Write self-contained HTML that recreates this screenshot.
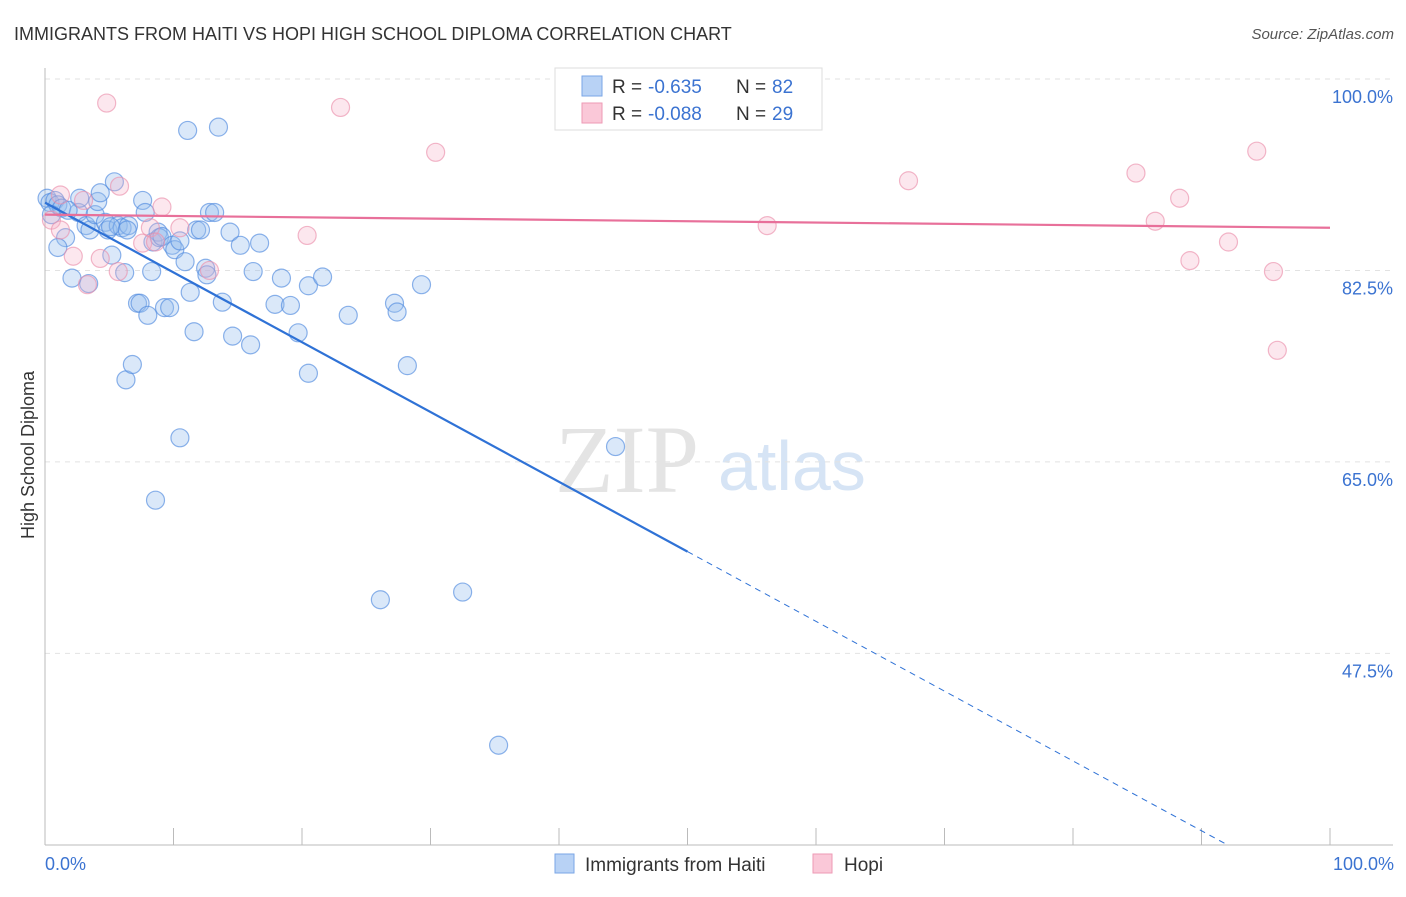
<!DOCTYPE html>
<html><head><meta charset="utf-8"><style>
body{margin:0;background:#fff;font-family:"Liberation Sans",sans-serif;}
svg text{font-family:"Liberation Sans",sans-serif;}
</style></head><body>
<svg width="1406" height="892" id="chart">
<text x="14" y="40" font-size="18" fill="#333">IMMIGRANTS FROM HAITI VS HOPI HIGH SCHOOL DIPLOMA CORRELATION CHART</text>
<text x="1394" y="39" font-size="15" fill="#555" text-anchor="end" font-style="italic">Source: ZipAtlas.com</text>
<text x="555" y="492" font-size="96" fill="#e4e4e4" style="font-family:'Liberation Serif',serif">ZIP</text>
<text x="718" y="490" font-size="70" fill="#d6e4f5">atlas</text>
<g id="grid"></g><g id="axes"></g><g id="pts"></g><g id="lines"></g>
<text transform="translate(34,455) rotate(-90)" font-size="18" fill="#333" text-anchor="middle">High School Diploma</text>
<text x="45" y="870" font-size="18" fill="#3b73d1">0.0%</text>
<text x="1394" y="870" font-size="18" fill="#3b73d1" text-anchor="end">100.0%</text>
<g>
<rect x="555" y="68" width="267" height="62" fill="#fff" stroke="#ddd"/>
<rect x="582" y="76" width="20" height="20" fill="#b8d2f5" stroke="#7aa6e6"/>
<rect x="582" y="103" width="20" height="20" fill="#fac8d8" stroke="#ee9ab5"/>
<text x="612" y="93" font-size="19" fill="#333">R =</text>
<text x="648" y="93" font-size="19" fill="#3b73d1">-0.635</text>
<text x="736" y="93" font-size="19" fill="#333">N =</text>
<text x="772" y="93" font-size="19" fill="#3b73d1">82</text>
<text x="612" y="120" font-size="19" fill="#333">R =</text>
<text x="648" y="120" font-size="19" fill="#3b73d1">-0.088</text>
<text x="736" y="120" font-size="19" fill="#333">N =</text>
<text x="772" y="120" font-size="19" fill="#3b73d1">29</text>
</g>
<g>
<rect x="555" y="854" width="19" height="19" fill="#b8d2f5" stroke="#7aa6e6"/>
<text x="585" y="871" font-size="19" fill="#333">Immigrants from Haiti</text>
<rect x="813" y="854" width="19" height="19" fill="#fac8d8" stroke="#ee9ab5"/>
<text x="844" y="871" font-size="19" fill="#333">Hopi</text>
</g>
</svg>
<script>
const yTicks=[100,82.5,65,47.5];
const yTickLabels=["100.0%","82.5%","65.0%","47.5%"];
const haitiX=[0.16,0.39,0.78,1.0,1.3,1.6,1.0,2.1,2.6,2.7,3.2,3.4,3.5,3.9,4.1,4.3,4.7,4.9,5.2,5.4,5.7,6.0,6.2,6.5,6.3,6.8,7.2,7.4,7.6,7.8,8.0,8.3,8.4,8.8,8.9,9.1,9.3,9.7,9.9,10.1,10.5,10.5,8.6,10.9,11.1,11.3,11.6,11.8,12.1,12.5,12.6,12.8,13.2,13.5,13.8,14.4,14.6,15.2,16.0,16.2,16.7,17.9,18.4,19.1,19.7,20.5,20.5,21.6,23.6,27.2,27.4,28.2,29.3,26.1,32.5,35.3,44.4,1.8,0.5,5.1,6.4];
const haitiY=[89.1,88.7,88.9,88.5,88.2,85.5,84.6,81.8,87.8,89.1,86.6,81.3,86.2,87.6,88.8,89.6,86.9,86.2,83.9,90.6,86.6,86.4,82.3,86.6,72.5,73.9,79.5,79.5,88.9,87.8,78.4,82.4,85.1,86.0,85.5,85.6,79.1,79.1,84.8,84.4,85.2,67.2,61.5,83.3,95.3,80.5,76.9,86.2,86.2,82.7,82.1,87.8,87.8,95.6,79.6,86.0,76.5,84.8,75.7,82.4,85.0,79.4,81.8,79.3,76.8,73.1,81.1,81.9,78.4,79.5,78.7,73.8,81.2,52.4,53.1,39.1,66.4,88.0,87.6,86.5,86.2];
const hopiX=[4.8,23.0,30.4,67.2,84.9,88.3,94.3,86.4,92.1,89.1,95.6,95.9,56.2,20.4,12.8,9.1,8.2,7.6,5.8,5.7,4.3,3.3,2.2,1.2,0.5,1.2,3.0,10.5,8.6];
const hopiY=[97.8,97.4,93.3,90.7,91.4,89.1,93.4,87.0,85.1,83.4,82.4,75.2,86.6,85.7,82.5,88.3,86.4,85.0,90.2,82.4,83.6,81.2,83.8,89.4,87.1,86.2,88.9,86.4,85.1];
const haitiTrend=[88.7,-0.638];
const hopiTrend=[87.6,-0.012];
const X=v=>45+v*12.85, Y=v=>79+(100-v)*10.94;
const NS="http://www.w3.org/2000/svg";
function mk(p,t,a){const e=document.createElementNS(NS,t);for(const k in a)e.setAttribute(k,a[k]);document.getElementById(p).appendChild(e);return e;}
yTicks.forEach((t,i)=>{
 const l=mk('grid','line',{x1:45,x2:1393,y1:Y(t),y2:Y(t),stroke:'#e2e2e2','stroke-dasharray':'5,5'});
 
 
 const tx=mk('grid','text',{x:1393,y:Y(t)+24,'font-size':18,fill:'#3b73d1','text-anchor':'end'});
 tx.textContent=yTickLabels[i];
 
 
});
let a=mk('axes','line',{x1:45,x2:45,y1:68,y2:845,stroke:'#bbb'});


a=mk('axes','line',{x1:45,x2:1393,y1:845,y2:845,stroke:'#bbb'});


for(let i=0;i<=10;i++){const t=mk('axes','line',{x1:X(i*10),x2:X(i*10),y1:828,y2:845,stroke:'#bbb'});
 
 }
haitiX.forEach((x,i)=>{const c=mk('pts','circle',{cx:X(x),cy:Y(haitiY[i]),r:9,fill:'rgba(150,188,238,0.35)',stroke:'rgba(80,138,222,0.65)','stroke-width':1.2});
 
 });
hopiX.forEach((x,i)=>{const c=mk('pts','circle',{cx:X(x),cy:Y(hopiY[i]),r:9,fill:'rgba(245,175,198,0.3)',stroke:'rgba(235,145,172,0.65)','stroke-width':1.2});
 
 });
const hy=x=>haitiTrend[0]+haitiTrend[1]*x;
let l=mk('lines','line',{x1:X(0),y1:Y(hy(0)),x2:X(50),y2:Y(hy(50)),stroke:'#2f72d6','stroke-width':2.2});


const xEnd=(haitiTrend[0]-30)/-haitiTrend[1];
l=mk('lines','line',{x1:X(50),y1:Y(hy(50)),x2:X(xEnd),y2:Y(hy(xEnd)),stroke:'#2f72d6','stroke-width':1,'stroke-dasharray':'6,5'});


const py=x=>hopiTrend[0]+hopiTrend[1]*x;
l=mk('lines','line',{x1:X(0),y1:Y(py(0)),x2:X(100),y2:Y(py(100)),stroke:'#e8709a','stroke-width':2.2});


</script>
</body></html>
